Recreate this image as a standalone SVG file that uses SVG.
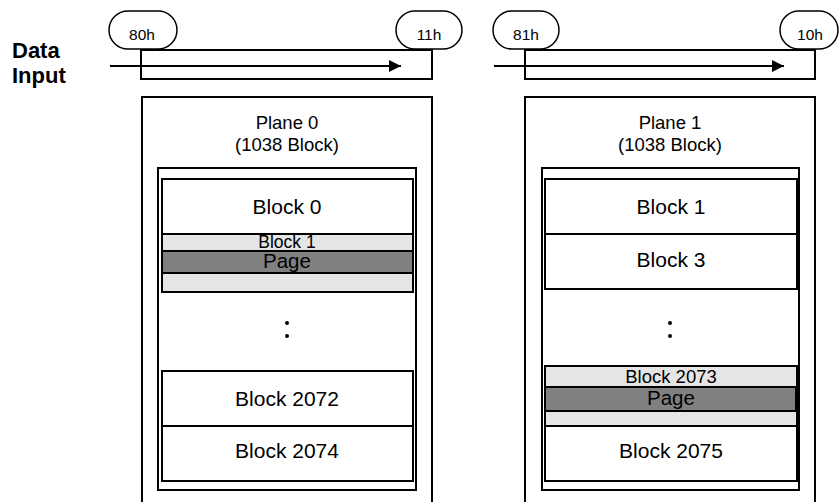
<svg xmlns="http://www.w3.org/2000/svg" width="839" height="502" viewBox="0 0 839 502">
<defs>
<style>
.ln{fill:none;stroke:#000;stroke-width:2}
.pill{fill:#fff;stroke:#000;stroke-width:1.5}
.box{fill:#fff;stroke:#000;stroke-width:2}
.lg{fill:#e5e5e5;stroke:#000;stroke-width:2}
.dg{fill:#808080;stroke:#000;stroke-width:2}
text{font-family:"Liberation Sans",Arial,sans-serif;fill:#000;text-anchor:middle}
.pt{font-size:15.5px}
.pl{font-size:18.5px}
.bl{font-size:21px}
.sb{font-size:17.5px}
.sb2{font-size:18.5px}
.pg{font-size:20.5px}
.dt{font-size:22px;font-weight:bold;text-anchor:start}
</style>
<marker id="ah" viewBox="0 0 10 10" refX="10" refY="5" markerWidth="7" markerHeight="6" markerUnits="strokeWidth" orient="auto">
<path d="M0,0 L10,5 L0,10 Z" fill="#000"/>
</marker>
</defs>
<rect width="839" height="502" fill="#fff"/>

<g id="label-data-input">
<text class="dt" x="12" y="58">Data</text>
<text class="dt" x="12" y="83">Input</text>
</g>

<g id="connectors">
<rect class="ln" x="141" y="50" width="291" height="29"/>
<line class="ln" x1="110" y1="66" x2="401" y2="66" marker-end="url(#ah)"/>
<rect class="ln" x="525" y="50" width="290" height="29"/>
<line class="ln" x1="494" y1="66" x2="784" y2="66" marker-end="url(#ah)"/>
</g>

<g id="cmd-80h">
<rect class="pill" x="109" y="11" width="68" height="38" rx="19"/>
<text class="pt" x="142" y="40">80h</text>
</g>
<g id="cmd-11h">
<rect class="pill" x="396" y="11" width="66" height="38" rx="19"/>
<text class="pt" x="429" y="40">11h</text>
</g>
<g id="cmd-81h">
<rect class="pill" x="493" y="11" width="66" height="38" rx="19"/>
<text class="pt" x="526" y="40">81h</text>
</g>
<g id="cmd-10h">
<rect class="pill" x="780" y="11" width="58" height="38" rx="19"/>
<text class="pt" x="810" y="40">10h</text>
</g>

<g id="plane-0">
<rect class="box" x="142" y="97" width="290" height="415"/>
<text class="pl" x="287" y="129">Plane 0</text>
<text class="pl" x="287" y="151">(1038 Block)</text>
<rect class="box" x="158" y="168" width="258" height="322"/>
<g id="p0-block0">
<rect class="box" x="162" y="179" width="251" height="55"/>
<text class="bl" x="287" y="214">Block 0</text>
</g>
<g id="p0-block1">
<rect class="lg" x="162" y="234" width="251" height="58"/>
<rect class="dg" x="162" y="251" width="251" height="22"/>
<text class="sb" x="287" y="248">Block 1</text>
<text class="pg" x="287" y="268">Page</text>
</g>
<circle cx="287" cy="323" r="2"/>
<circle cx="287" cy="336" r="2"/>
<g id="p0-block2072">
<rect class="box" x="162" y="371" width="251" height="55"/>
<text class="bl" x="287" y="406">Block 2072</text>
</g>
<g id="p0-block2074">
<rect class="box" x="162" y="426" width="251" height="55"/>
<text class="bl" x="287" y="458">Block 2074</text>
</g>
</g>

<g id="plane-1">
<rect class="box" x="525" y="97" width="290" height="415"/>
<text class="pl" x="670" y="129">Plane 1</text>
<text class="pl" x="670" y="151">(1038 Block)</text>
<rect class="box" x="542" y="168" width="257" height="322"/>
<g id="p1-block1">
<rect class="box" x="545" y="179" width="252" height="55"/>
<text class="bl" x="671" y="214">Block 1</text>
</g>
<g id="p1-block3">
<rect class="box" x="545" y="234" width="252" height="55"/>
<text class="bl" x="671" y="267">Block 3</text>
</g>
<circle cx="670" cy="323" r="2"/>
<circle cx="670" cy="336" r="2"/>
<g id="p1-block2073">
<rect class="lg" x="545" y="366" width="252" height="60"/>
<rect class="dg" x="545" y="387" width="252" height="24"/>
<line x1="797" y1="387" x2="797" y2="411" stroke="#000" stroke-width="4"/>
<text class="sb2" x="671" y="383">Block 2073</text>
<text class="pg" x="671" y="405">Page</text>
</g>
<g id="p1-block2075">
<rect class="box" x="545" y="426" width="252" height="55"/>
<text class="bl" x="671" y="458">Block 2075</text>
</g>
</g>
</svg>
